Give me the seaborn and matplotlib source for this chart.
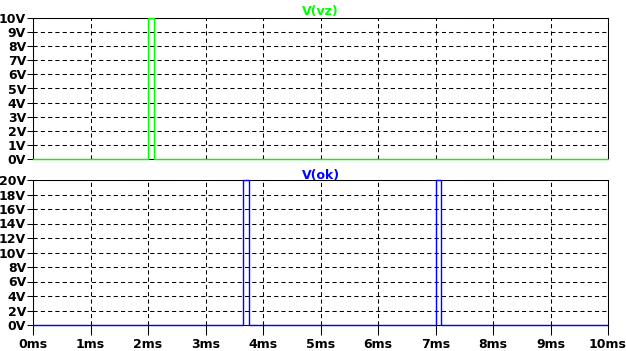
import matplotlib
matplotlib.use("Agg")
import matplotlib.pyplot as plt
import seaborn as sns
import pandas as pd

# ---- data ----
t_vz = [0.0, 2.0, 2.0, 2.1, 2.1, 10.0]        # ms
v_vz = [0.0, 0.0, 10.0, 10.0, 0.0, 0.0]       # V
t_ok = [0.0, 3.66, 3.66, 3.76, 3.76, 7.0, 7.0, 7.1, 7.1, 10.0]
v_ok = [0.0, 0.0, 20.0, 20.0, 0.0, 0.0, 20.0, 20.0, 0.0, 0.0]
x_ticks = list(range(0, 11))
x_labels = [f"{v}ms" for v in x_ticks]
top_yticks = list(range(0, 11))
top_ylabels = [f"{v}V" for v in top_yticks]
bot_yticks = list(range(0, 21, 2))
bot_ylabels = [f"{v}V" for v in bot_yticks]

sns.set_style("white")
plt.rcParams["font.family"] = ["DejaVu Sans"]
plt.rcParams["font.weight"] = "bold"

W, H = 626, 351
fig = plt.figure(figsize=(W / 100, H / 100), dpi=100)
fig.patch.set_facecolor("white")

def frac(l, t, r, b):
    return [l / W, 1 - b / H, (r - l) / W, (b - t) / H]

ax1 = fig.add_axes(frac(33, 18, 608, 159))
ax2 = fig.add_axes(frac(33, 180, 608, 325))

df1 = pd.DataFrame({"t": t_vz, "v": v_vz})
df2 = pd.DataFrame({"t": t_ok, "v": v_ok})

sns.lineplot(data=df1, x="t", y="v", ax=ax1, estimator=None, sort=False,
             color="#00ff00", linewidth=1.0, zorder=5, clip_on=False)
sns.lineplot(data=df2, x="t", y="v", ax=ax2, estimator=None, sort=False,
             color="#0000ff", linewidth=1.0, zorder=5, clip_on=False)

fs = 9
for ax, yt, yl, ttl, col in [(ax1, top_yticks, top_ylabels, "V(vz)", "#00ff00"),
                             (ax2, bot_yticks, bot_ylabels, "V(ok)", "#0000ff")]:
    ax.set_xlim(0, 10)
    ax.set_ylim(yt[0], yt[-1])
    ax.set_xticks(x_ticks)
    ax.set_yticks(yt)
    ax.set_yticklabels(yl, fontsize=fs, fontweight="bold")
    ax.set_xlabel("")
    ax.set_ylabel("")
    ax.grid(True, color="black", linestyle=(0, (4, 3)), linewidth=0.75)
    ax.set_axisbelow(True)
    for s in ax.spines.values():
        s.set_visible(True)
        s.set_color("black")
        s.set_linewidth(0.75)
        s.set_zorder(4)
    ax.tick_params(axis="y", direction="out", length=4, width=0.75, pad=1,
                   color="black", left=True, labelcolor="black")
    ax.set_title(ttl, color=col, fontsize=fs, fontweight="bold", pad=1)

ax1.tick_params(axis="x", bottom=False, labelbottom=False)
ax2.set_xticklabels(x_labels, fontsize=fs, fontweight="bold")
ax2.tick_params(axis="x", direction="out", length=7, width=0.75, pad=2,
                color="black", bottom=True, labelcolor="black")

fig.savefig("out.png", dpi=100, facecolor="white")
